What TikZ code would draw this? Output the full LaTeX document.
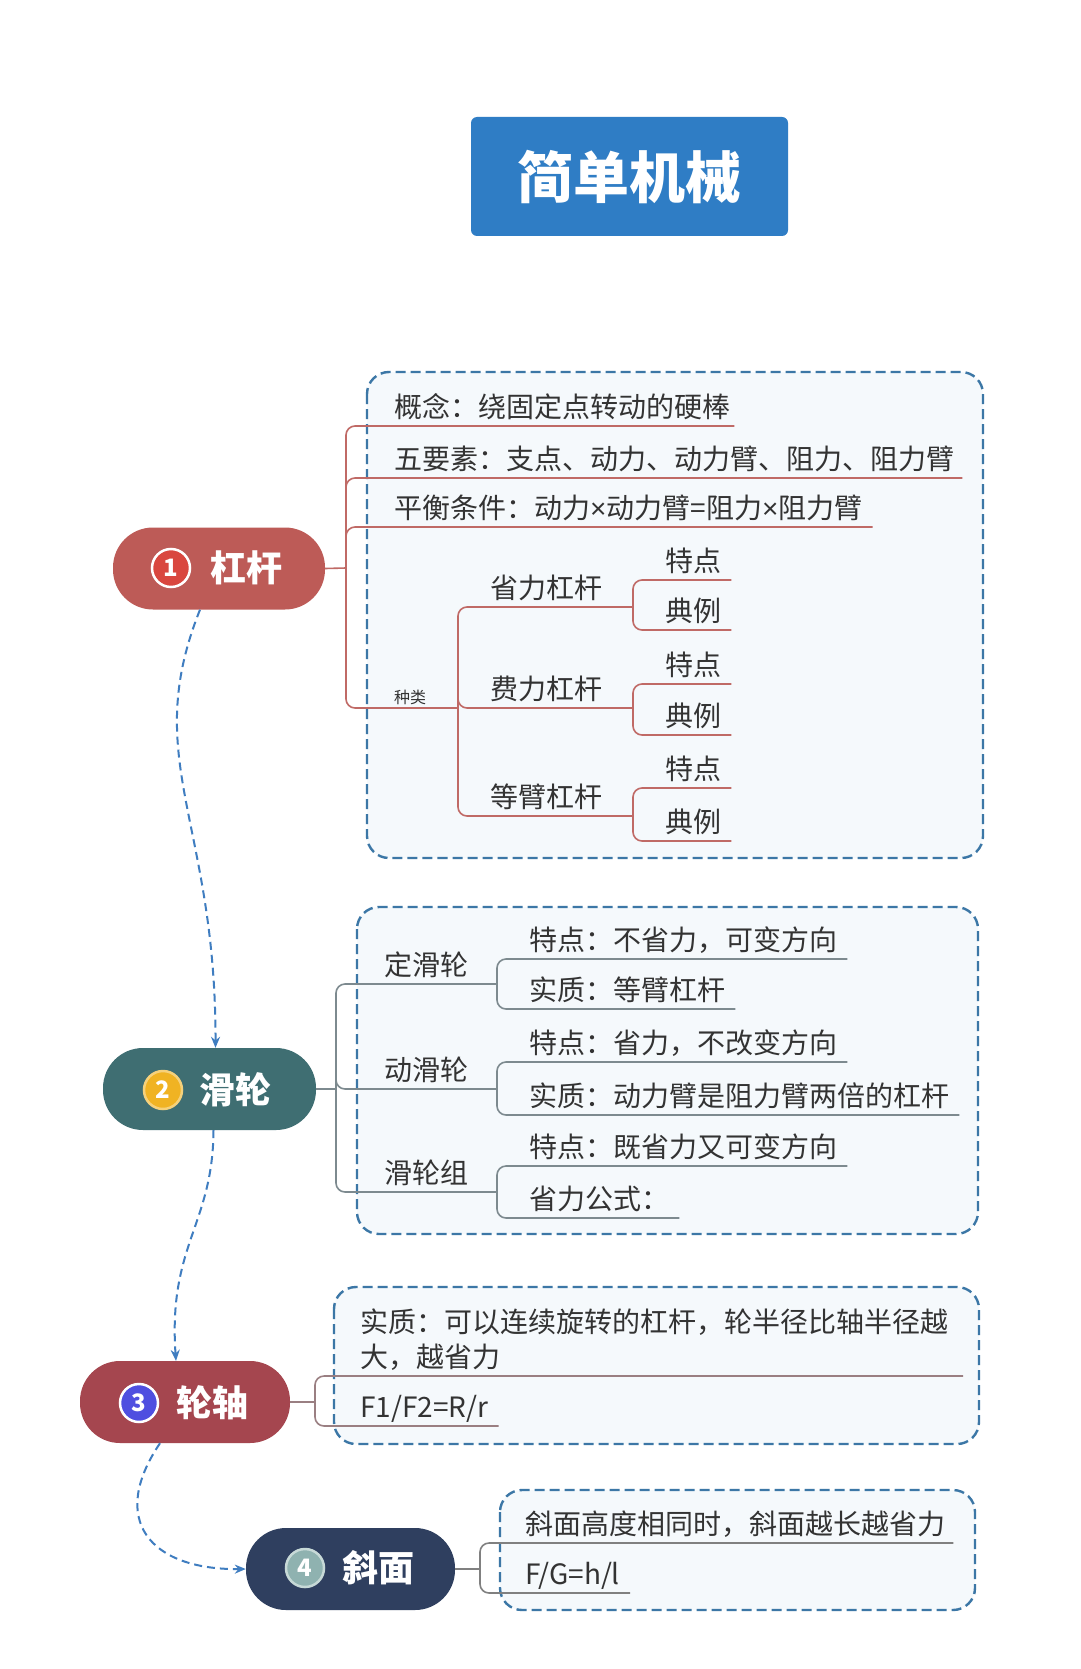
\documentclass[tikz,border=0pt]{standalone}
\usepackage{fontspec}
\setmainfont{Noto Sans CJK SC}
\newfontfamily\latinfont{Liberation Sans}
\usetikzlibrary{arrows.meta,calc}
\definecolor{titleblue}{HTML}{2F7DC5}
\definecolor{boxblue}{HTML}{3C77A6}
\definecolor{boxfill}{HTML}{F5F9FC}
\definecolor{txt}{HTML}{333333}
\definecolor{cone}{HTML}{BD5B57}
\definecolor{conenum}{HTML}{D9473F}
\definecolor{ctwo}{HTML}{3F6E72}
\definecolor{ctwonum}{HTML}{F0B323}
\definecolor{cthree}{HTML}{A5464F}
\definecolor{cthreenum}{HTML}{4F4FE0}
\definecolor{cfour}{HTML}{2F3F5F}
\definecolor{cfournum}{HTML}{8FB2B0}
\definecolor{lone}{HTML}{C06A66}
\definecolor{ltwo}{HTML}{7D8A8F}
\definecolor{lthree}{HTML}{9A7F82}
\definecolor{lfour}{HTML}{808080}
\definecolor{arrowblue}{HTML}{3F7DC0}
\newcommand{\mytimes}{{\latinfont ×}}
\begin{document}
\begin{tikzpicture}[x=1pt,y=-1pt,
  dbox/.style={draw=boxblue, dash pattern=on 10pt off 5pt, line width=2.4pt, fill=boxfill, rounded corners=22pt},
  pill/.style={rounded corners=40pt, minimum height=82pt, inner sep=0pt},
  numc/.style={circle, draw=white, line width=2.5pt, minimum size=38pt, inner sep=0pt, text=white, font=\bfseries\fontsize{24}{24}\selectfont},
  pilltxt/.style={text=white, inner sep=0pt, font=\bfseries\fontsize{36}{36}\selectfont},
  item/.style={anchor=base west, inner sep=0pt, text=txt, font=\fontsize{28}{35}\selectfont},
  smallitem/.style={anchor=base west, inner sep=0pt, text=txt, font=\fontsize{16}{16}\selectfont},
  br/.style={line width=1.6pt, rounded corners=9pt},
  flow/.style={draw=arrowblue, line width=2pt, dash pattern=on 8pt off 5pt, -{Stealth[length=11pt,width=9pt]}}
]
\fill[white] (0,0) rectangle (1080,1669);
\useasboundingbox (0,0) rectangle (1080,1669);

% title
\node[fill=titleblue, rounded corners=6pt, minimum width=317pt, minimum height=119pt, text=white, font=\bfseries\fontsize{56}{56}\selectfont] (title) at (629.5,176.5) {简单机械};

% dashed boxes
\draw[dbox] (367,372) rectangle (983,858);
\draw[dbox] (357,907) rectangle (978,1234);
\draw[dbox] (334,1287) rectangle (979,1444);
\draw[dbox] (500,1490) rectangle (975,1610);

% main nodes
\node[pill, fill=cone, minimum width=212pt] (n1) at (219,568.5) {};
\node[numc, fill=conenum] (n1num) at (171,568) {1};
\node[pilltxt] (n1txt) at (246,568) {杠杆};

\node[pill, fill=ctwo, minimum width=213pt] (n2) at (209.5,1089) {};
\node[numc, fill=ctwonum, draw=ctwonum!60!white] (n2num) at (163,1090) {2};
\node[pilltxt] (n2txt) at (235,1090) {滑轮};

\node[pill, fill=cthree, minimum width=210pt] (n3) at (185,1402) {};
\node[numc, fill=cthreenum] (n3num) at (139,1403) {3};
\node[pilltxt] (n3txt) at (212,1403) {轮轴};

\node[pill, fill=cfour, minimum width=209pt] (n4) at (350.5,1569) {};
\node[numc, fill=cfournum, draw=cfournum!50!white] (n4num) at (305,1568) {4};
\node[pilltxt] (n4txt) at (378,1568) {斜面};

% flow arrows
\draw[flow] ([xshift=-19pt]n1.south) .. controls (140,760) and (216,820) .. ([xshift=6pt]n2.north);
\draw[flow] ([xshift=4pt]n2.south) .. controls (213,1225) and (168,1245) .. ([xshift=-9pt]n3.north);
\draw[flow] ([xshift=-25pt]n3.south) .. controls (108,1520) and (150,1570) .. (n4.west);

% ---------- branch 1: lever
\coordinate (j1) at (346,568);
\draw[br, draw=lone] (n1.east) -- (j1);
\node[item] (a1) at (394,417) {概念：绕固定点转动的硬棒};
\node[item] (a2) at (394,469) {五要素：支点、动力、动力臂、阻力、阻力臂};
\node[item] (a3) at (394,518) {平衡条件：动力\mytimes 动力臂=阻力\mytimes 阻力臂};
\node[smallitem] (a4) at (394,703) {种类};
\draw[br, draw=lone] (j1) |- ([shift={(4,9)}]a1.base east);
\draw[br, draw=lone] (j1) |- ([shift={(8,9)}]a2.base east);
\draw[br, draw=lone] (j1) |- ([shift={(10,9)}]a3.base east);
\coordinate (j2) at (458,708);
\draw[br, draw=lone] (j1) |- (j2);

\node[item] (b1) at (490,598) {省力杠杆};
\node[item] (b2) at (490,699) {费力杠杆};
\node[item] (b3) at (490,807) {等臂杠杆};
\coordinate (jb1) at (633,607);
\coordinate (jb2) at (633,708);
\coordinate (jb3) at (633,816);
\draw[br, draw=lone] (j2) |- (jb1);
\draw[br, draw=lone] (j2) |- (jb2);
\draw[br, draw=lone] (j2) |- (jb3);

\node[item] (c1) at (665,571) {特点};
\node[item] (c2) at (665,621) {典例};
\node[item] (c3) at (665,675) {特点};
\node[item] (c4) at (665,726) {典例};
\node[item] (c5) at (665,779) {特点};
\node[item] (c6) at (665,832) {典例};
\draw[br, draw=lone] (jb1) |- ([shift={(10,9)}]c1.base east);
\draw[br, draw=lone] (jb1) |- ([shift={(10,9)}]c2.base east);
\draw[br, draw=lone] (jb2) |- ([shift={(10,9)}]c3.base east);
\draw[br, draw=lone] (jb2) |- ([shift={(10,9)}]c4.base east);
\draw[br, draw=lone] (jb3) |- ([shift={(10,9)}]c5.base east);
\draw[br, draw=lone] (jb3) |- ([shift={(10,9)}]c6.base east);

% ---------- branch 2: pulley
\coordinate (k1) at (336,1089);
\draw[br, draw=ltwo] (n2.east) -- (k1);
\node[item] (d1) at (384,975) {定滑轮};
\node[item] (d2) at (384,1080) {动滑轮};
\node[item] (d3) at (384,1183) {滑轮组};
\coordinate (kd1) at (497,984);
\coordinate (kd2) at (497,1089);
\coordinate (kd3) at (497,1192);
\draw[br, draw=ltwo] (k1) |- (kd1);
\draw[br, draw=ltwo] (k1) |- (kd2);
\draw[br, draw=ltwo] (k1) |- (kd3);

\node[item] (e1) at (529,950) {特点：不省力，可变方向};
\node[item] (e2) at (529,1000) {实质：等臂杠杆};
\node[item] (e3) at (529,1053) {特点：省力，不改变方向};
\node[item] (e4) at (529,1106) {实质：动力臂是阻力臂两倍的杠杆};
\node[item] (e5) at (529,1157) {特点：既省力又可变方向};
\node[item] (e6) at (529,1209) {省力公式：};
\draw[br, draw=ltwo] (kd1) |- ([shift={(10,9)}]e1.base east);
\draw[br, draw=ltwo] (kd1) |- ([shift={(10,9)}]e2.base east);
\draw[br, draw=ltwo] (kd2) |- ([shift={(10,9)}]e3.base east);
\draw[br, draw=ltwo] (kd2) |- ([shift={(10,9)}]e4.base east);
\draw[br, draw=ltwo] (kd3) |- ([shift={(10,9)}]e5.base east);
\draw[br, draw=ltwo] (kd3) |- ([shift={(10,9)}]e6.base east);

% ---------- branch 3: wheel and axle
\coordinate (m1) at (315,1402);
\draw[br, draw=lthree] (n3.east) -- (m1);
\node[item] (f1) at (360,1367) {\parbox[b]{640pt}{\raggedright 实质：可以连续旋转的杠杆，轮半径比轴半径越\\大，越省力}};
\node[item] (f2) at (360,1417) {F1/F2=R/r};
\coordinate (f1end) at (963,1376);
\draw[br, draw=lthree] (m1) |- (f1end);
\draw[br, draw=lthree] (m1) |- ([shift={(10,9)}]f2.base east);

% ---------- branch 4: incline
\coordinate (p1) at (480,1569);
\draw[br, draw=lfour] (n4.east) -- (p1);
\node[item] (g1) at (525,1534) {斜面高度相同时，斜面越长越省力};
\node[item] (g2) at (525,1584) {F/G=h/l};
\draw[br, draw=lfour] (p1) |- ([shift={(8,9)}]g1.base east);
\draw[br, draw=lfour] (p1) |- ([shift={(10,9)}]g2.base east);
\end{tikzpicture}
\end{document}
